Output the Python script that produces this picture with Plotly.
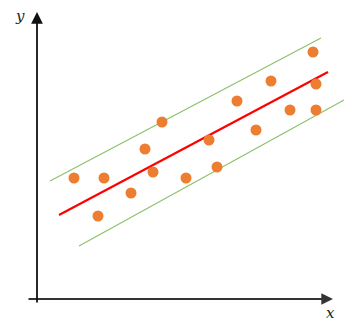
import plotly.graph_objects as go

# Scatter data (arbitrary units, origin at axis intersection)
pts_x = [3.7, 6.1, 6.7, 9.4, 10.8, 11.6, 12.5, 14.9, 17.2, 18.0, 20.0, 21.9, 23.4, 25.3, 27.6, 27.9, 27.9]
pts_y = [12.1, 8.3, 12.1, 10.6, 15.0, 12.7, 17.7, 12.1, 15.9, 13.2, 19.8, 16.9, 21.8, 18.9, 24.7, 21.5, 18.9]

# Regression line and band endpoints
fit_x = [2.2, 29.1]
fit_y = [8.4, 22.7]
upper_x = [1.3, 28.4]
upper_y = [11.8, 26.1]
lower_x = [4.2, 30.7]
lower_y = [5.3, 19.9]

# Axis extents
xaxis_span = [-1.0, 29.6]
yaxis_span = [-0.5, 28.7]
axis_labels = ["x", "y"]

fig = go.Figure()
fig.add_trace(go.Scatter(x=upper_x, y=upper_y, mode="lines",
                         line=dict(color="#8CC26A", width=1.2), hoverinfo="skip"))
fig.add_trace(go.Scatter(x=lower_x, y=lower_y, mode="lines",
                         line=dict(color="#8CC26A", width=1.2), hoverinfo="skip"))
fig.add_trace(go.Scatter(x=fit_x, y=fit_y, mode="lines",
                         line=dict(color="#FF0000", width=2.2), hoverinfo="skip"))
fig.add_trace(go.Scatter(x=pts_x, y=pts_y, mode="markers",
                         marker=dict(color="#ED7D31", size=11, line=dict(width=0))))

# axes with arrows
fig.add_annotation(x=xaxis_span[1], y=0, ax=xaxis_span[0], ay=0,
                   xref="x", yref="y", axref="x", ayref="y",
                   showarrow=True, arrowhead=2, arrowsize=1.3, arrowwidth=1.8,
                   arrowcolor="#333333", standoff=0, startstandoff=0, text="")
fig.add_annotation(x=0, y=yaxis_span[1], ax=0, ay=yaxis_span[0],
                   xref="x", yref="y", axref="x", ayref="y",
                   showarrow=True, arrowhead=2, arrowsize=1.3, arrowwidth=1.8,
                   arrowcolor="#111111", standoff=0, startstandoff=0, text="")
fig.add_annotation(x=29.3, y=-1.4, text="<i>" + axis_labels[0] + "</i>", showarrow=False,
                   font=dict(family="DejaVu Serif", size=15, color="#222"),
                   xref="x", yref="y")
fig.add_annotation(x=-1.7, y=28.3, text="<i>" + axis_labels[1] + "</i>", showarrow=False,
                   font=dict(family="DejaVu Serif", size=15, color="#222"),
                   xref="x", yref="y")

fig.update_layout(
    width=354, height=328, margin=dict(l=0, r=0, t=0, b=0),
    paper_bgcolor="white", plot_bgcolor="white", showlegend=False,
    xaxis=dict(range=[-3.7, 31.7], visible=False, fixedrange=True),
    yaxis=dict(range=[-2.9, 29.9], visible=False, fixedrange=True),
)
fig.write_html("out.html")
